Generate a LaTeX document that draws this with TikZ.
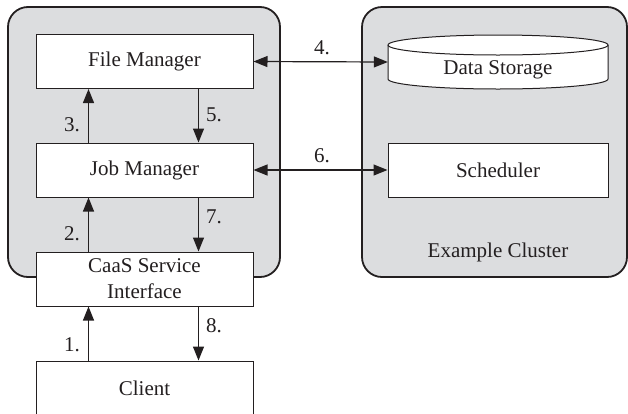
\documentclass[tikz,border=0pt]{standalone}
\usepackage{fontspec}
\setmainfont{Liberation Serif}
\usetikzlibrary{arrows.meta}
\definecolor{cgray}{RGB}{220,221,223}
\definecolor{ink}{RGB}{35,31,32}
\begin{document}
\begin{tikzpicture}[x=1pt,y=-1pt,
  every node/.style={font=\fontsize{21}{26}\selectfont, text=ink},
  container/.style={draw=ink, line width=1.8pt, fill=cgray, rounded corners=20pt},
  box/.style={draw=ink, line width=1pt, fill=white, minimum width=217pt, minimum height=54pt, inner sep=0pt, align=center},
  arr/.style={draw=ink, line width=1.2pt, -{Triangle[length=14pt,width=11pt]}},
  darr/.style={draw=ink, line width=1.2pt, {Triangle[length=14pt,width=11pt]}-{Triangle[length=14pt,width=11pt]}},
  lbl/.style={inner sep=0pt}]
\useasboundingbox (0,0) rectangle (628,413);
\clip (0,0) rectangle (628,413);
% containers
\draw[container] (8,7) rectangle (280,277);
\draw[container] (362,7) rectangle (627,277);
% boxes
\node[box] (fm) at (144.5,61.5) {File Manager};
\node[box] (jm) at (144.5,170) {Job Manager};
\node[box] (caas) at (144.5,279) {CaaS Service\\Interface};
\node[box, minimum height=54pt] (client) at (144.5,388) {Client};
\node[box, minimum width=220pt] (sch) at (498,170) {Scheduler};
% cylinder
\path[draw=ink, line width=1pt, fill=white] (388,45) -- (388,79) arc[start angle=180, end angle=360, x radius=110pt, y radius=10pt] -- (608,45) arc[start angle=0, end angle=180, x radius=110pt, y radius=10pt] -- cycle;
\draw[ink, line width=1pt] (388,45) arc[start angle=180, end angle=360, x radius=110pt, y radius=10pt];
\node[inner sep=0pt, minimum width=220pt, minimum height=54pt] (ds) at (498,62) {};
\node at (498,70) {Data Storage};
\node (ec) at (498,252) {Example Cluster};
% connectors
\draw[arr] (client.south west |- client.north) ++(53,0) coordinate (c1) -- (c1 |- caas.south);
\draw[arr] (caas.north west) ++(53,0) coordinate (c2) -- (c2 |- jm.south);
\draw[arr] (jm.north west) ++(53,0) coordinate (c3) -- (c3 |- fm.south);
\draw[arr] (fm.south west) ++(163,0) coordinate (c5) -- (c5 |- jm.north);
\draw[arr] (jm.south west) ++(163,0) coordinate (c7) -- (c7 |- caas.north);
\draw[arr] (caas.south west) ++(163,0) coordinate (c8) -- (c8 |- client.north);
\draw[darr] (fm.east) -- (ds.west);
\draw[darr] (jm.east) -- (sch.west);
% labels
\node[lbl] at (72,345) {1.};
\node[lbl] at (72,234) {2.};
\node[lbl] at (72,125) {3.};
\node[lbl] at (322,48) {4.};
\node[lbl] at (214,115) {5.};
\node[lbl] at (322,156) {6.};
\node[lbl] at (214,217) {7.};
\node[lbl] at (214,326) {8.};
\end{tikzpicture}
\end{document}
